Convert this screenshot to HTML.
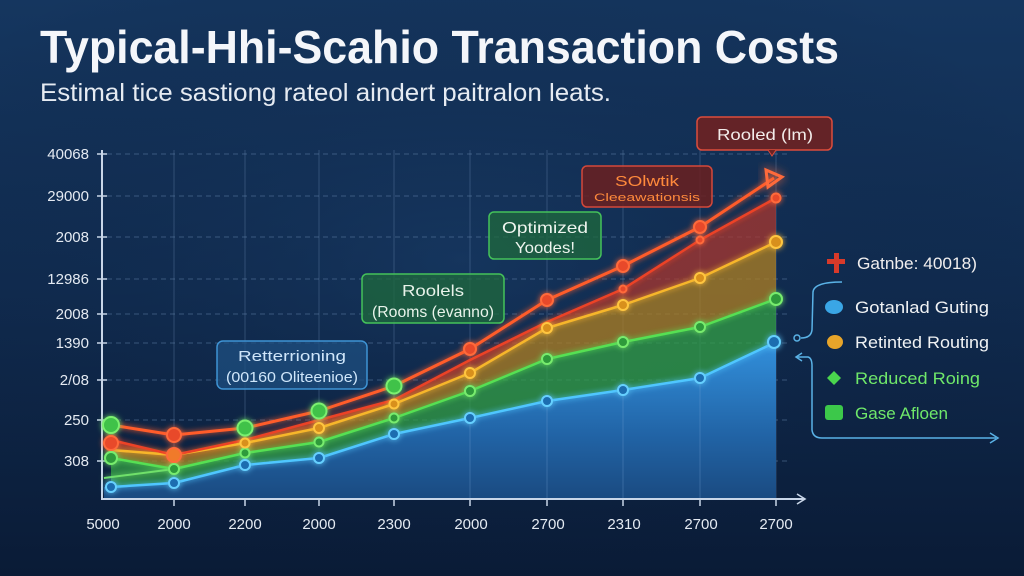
<!DOCTYPE html>
<html><head><meta charset="utf-8"><style>
html,body{margin:0;padding:0;background:#0d2242;}
svg{display:block;}
text{font-family:"Liberation Sans",sans-serif;}
</style></head><body>
<svg width="1024" height="576" viewBox="0 0 1024 576" xmlns="http://www.w3.org/2000/svg">
<defs>
<linearGradient id="bg" x1="0" y1="0" x2="0" y2="1">
<stop offset="0" stop-color="#15365f"/><stop offset="0.5" stop-color="#102b4f"/><stop offset="1" stop-color="#0a1b36"/>
</linearGradient>
<radialGradient id="bg2" cx="0.45" cy="0.45" r="0.6">
<stop offset="0" stop-color="#1a3e6a" stop-opacity="0.5"/><stop offset="1" stop-color="#0a1b36" stop-opacity="0"/>
</radialGradient>
<linearGradient id="blueF" x1="0" y1="0" x2="0" y2="1">
<stop offset="0" stop-color="#3290dc"/><stop offset="0.6" stop-color="#2163a5"/><stop offset="1" stop-color="#1a4a80"/>
</linearGradient>
<filter id="glow" x="-20%" y="-20%" width="140%" height="140%">
<feGaussianBlur stdDeviation="3" result="b"/><feMerge><feMergeNode in="b"/><feMergeNode in="SourceGraphic"/></feMerge>
</filter>
<filter id="glow2" x="-50%" y="-50%" width="200%" height="200%">
<feGaussianBlur stdDeviation="5" result="b"/><feMerge><feMergeNode in="b"/><feMergeNode in="SourceGraphic"/></feMerge>
</filter>
</defs>
<rect width="1024" height="576" fill="url(#bg)"/>
<rect width="1024" height="576" fill="url(#bg2)"/>

<!-- title -->
<text x="40" y="63" font-size="46" font-weight="bold" fill="#f4f6fa" textLength="799" lengthAdjust="spacingAndGlyphs">Typical-Hhi-Scahio Transaction Costs</text>
<text x="40" y="101" font-size="25" fill="#e6ebf2" textLength="571" lengthAdjust="spacingAndGlyphs">Estimal tice sastiong rateol aindert paitralon leats.</text>

<!-- grid -->
<g stroke="#6d8db5" stroke-opacity="0.35" stroke-width="1">
<line x1="174" y1="150" x2="174" y2="500"/><line x1="245" y1="150" x2="245" y2="500"/>
<line x1="319" y1="150" x2="319" y2="500"/><line x1="394" y1="150" x2="394" y2="500"/>
<line x1="470" y1="150" x2="470" y2="500"/><line x1="547" y1="150" x2="547" y2="500"/>
<line x1="623" y1="150" x2="623" y2="500"/><line x1="700" y1="150" x2="700" y2="500"/>
<line x1="776" y1="150" x2="776" y2="500"/>
</g>
<g stroke="#6d8db5" stroke-opacity="0.45" stroke-width="1" stroke-dasharray="5,4">
<line x1="107" y1="154" x2="790" y2="154"/><line x1="107" y1="196" x2="790" y2="196"/>
<line x1="107" y1="237" x2="790" y2="237"/><line x1="107" y1="279" x2="790" y2="279"/>
<line x1="107" y1="314" x2="790" y2="314"/><line x1="107" y1="343" x2="790" y2="343"/>
<line x1="107" y1="380" x2="790" y2="380"/><line x1="107" y1="420" x2="790" y2="420"/>
<line x1="107" y1="461" x2="790" y2="461"/>
</g>

<!-- fills -->
<polygon fill="#b0382c" fill-opacity="0.72" points="111,440 174,455 245,440 319,420 394,400 470,360 547,322 623,289 700,240 776,198 776,242 700,278 623,305 547,328 470,373 394,404 319,428 245,443 174,455 111,450"/>
<polygon fill="#b08022" fill-opacity="0.75" points="111,450 174,455 245,443 319,428 394,404 470,373 547,328 623,305 700,278 776,242 776,299 700,327 623,342 547,359 470,391 394,418 319,442 245,453 174,469 111,458"/>
<polygon fill="#33a045" fill-opacity="0.75" points="111,458 174,469 245,453 319,442 394,418 470,391 547,359 623,342 700,327 776,299 776,342 700,378 623,390 547,401 470,418 394,434 319,458 245,465 174,483 111,487"/>
<polygon fill="url(#blueF)" points="104,487 111,487 174,483 245,465 319,458 394,434 470,418 547,401 623,390 700,378 776,342 776,500 104,500"/>
<g stroke="#7aa6d8" stroke-opacity="0.3" stroke-width="1">
<line x1="470" y1="418" x2="470" y2="500"/><line x1="547" y1="401" x2="547" y2="500"/><line x1="623" y1="390" x2="623" y2="500"/><line x1="700" y1="378" x2="700" y2="500"/>
</g>

<!-- axes -->
<g stroke="#c9d6e8" stroke-width="2" fill="none">
<line x1="102" y1="150" x2="102" y2="500"/>
<line x1="102" y1="499" x2="804" y2="499"/>
<path d="M797,494 L805,499 L797,504" stroke-width="1.6"/>
</g>
<g stroke="#c9d6e8" stroke-width="1.5">
<line x1="97" y1="154" x2="107" y2="154"/><line x1="97" y1="196" x2="107" y2="196"/><line x1="97" y1="237" x2="107" y2="237"/>
<line x1="97" y1="279" x2="107" y2="279"/><line x1="97" y1="314" x2="107" y2="314"/><line x1="97" y1="343" x2="107" y2="343"/>
<line x1="97" y1="380" x2="107" y2="380"/><line x1="97" y1="420" x2="107" y2="420"/><line x1="97" y1="461" x2="107" y2="461"/>
<line x1="174" y1="499" x2="174" y2="506"/><line x1="245" y1="499" x2="245" y2="506"/><line x1="319" y1="499" x2="319" y2="506"/>
<line x1="394" y1="499" x2="394" y2="506"/><line x1="470" y1="499" x2="470" y2="506"/><line x1="547" y1="499" x2="547" y2="506"/>
<line x1="623" y1="499" x2="623" y2="506"/><line x1="700" y1="499" x2="700" y2="506"/><line x1="776" y1="499" x2="776" y2="506"/>
</g>
<g font-size="15" fill="#e4eaf2" text-anchor="end">
<text x="89" y="159">40068</text><text x="89" y="201">29000</text><text x="89" y="242">2008</text>
<text x="89" y="284">12986</text><text x="89" y="319">2008</text><text x="89" y="348">1390</text>
<text x="89" y="385">2/08</text><text x="89" y="425">250</text><text x="89" y="466">308</text>
</g>
<g font-size="15" fill="#e4eaf2" text-anchor="middle">
<text x="103" y="529">5000</text><text x="174" y="529">2000</text><text x="245" y="529">2200</text>
<text x="319" y="529">2000</text><text x="394" y="529">2300</text><text x="471" y="529">2000</text>
<text x="548" y="529">2700</text><text x="624" y="529">2310</text><text x="701" y="529">2700</text>
<text x="776" y="529">2700</text>
</g>

<!-- lines -->
<g fill="none" stroke-width="2.5" stroke-linejoin="round" filter="url(#glow)">
<polyline stroke="#6fe06a" stroke-width="2" points="104,478 174,469"/>
<polyline stroke="#4fc6ff" points="111,487 174,483 245,465 319,458 394,434 470,418 547,401 623,390 700,378 776,342"/>
<polyline stroke="#56e052" points="111,458 174,469 245,453 319,442 394,418 470,391 547,359 623,342 700,327 776,299"/>
<polyline stroke="#f7b62c" points="111,450 174,455 245,443 319,428 394,404 470,373 547,328 623,305 700,278 776,242"/>
<polyline stroke="#ec4326" points="111,440 174,455 245,440 319,420 394,400 470,360 547,322 623,289 700,240 776,198"/>
<polyline stroke="#ff5c2a" stroke-width="3" points="111,425 174,435 245,428 319,411 394,386 470,349 547,300 623,266 700,227 774,178"/>
</g>
<path d="M766,170 L782,177 L768,187 Z" fill="none" stroke="#ff6a3a" stroke-width="3" filter="url(#glow2)"/>

<!-- dots -->
<g stroke-width="2" filter="url(#glow)">
<g fill="#1f6db0" stroke="#66d0ff">
<circle cx="111" cy="487" r="5"/><circle cx="174" cy="483" r="5"/><circle cx="245" cy="465" r="5"/><circle cx="319" cy="458" r="5"/>
<circle cx="394" cy="434" r="5"/><circle cx="470" cy="418" r="5"/><circle cx="547" cy="401" r="5"/><circle cx="623" cy="390" r="5"/>
<circle cx="700" cy="378" r="5"/><circle cx="774" cy="342" r="6"/>
</g>
<g fill="#2f9a3a" stroke="#78ec6e">
<circle cx="111" cy="458" r="6"/><circle cx="174" cy="469" r="5"/><circle cx="245" cy="453" r="4.5"/><circle cx="319" cy="442" r="4.5"/>
<circle cx="394" cy="418" r="4.5"/><circle cx="470" cy="391" r="5"/><circle cx="547" cy="359" r="5"/><circle cx="623" cy="342" r="5"/>
<circle cx="700" cy="327" r="5"/><circle cx="776" cy="299" r="6"/>
</g>
<g fill="#d8901e" stroke="#ffc640">
<circle cx="245" cy="443" r="4.5"/><circle cx="319" cy="428" r="5"/><circle cx="394" cy="404" r="4.5"/><circle cx="470" cy="373" r="5"/>
<circle cx="547" cy="328" r="5"/><circle cx="623" cy="305" r="5"/><circle cx="700" cy="278" r="5"/><circle cx="776" cy="242" r="6"/>
</g>
<g fill="#e84a2a" stroke="#ff6a3a">
<circle cx="111" cy="443" r="7"/><circle cx="174" cy="455" r="7" fill="#f07a2a"/><circle cx="174" cy="435" r="7"/>
<circle cx="470" cy="349" r="6"/><circle cx="547" cy="300" r="6"/><circle cx="623" cy="266" r="6"/><circle cx="700" cy="227" r="6"/>
<circle cx="623" cy="289" r="3.5"/><circle cx="700" cy="240" r="3.5"/><circle cx="776" cy="198" r="4.5"/>
</g>
<g fill="#3fc24a" stroke="#7cf070">
<circle cx="111" cy="425" r="8"/><circle cx="245" cy="428" r="7.5"/><circle cx="319" cy="411" r="7.5"/><circle cx="394" cy="386" r="7.5"/>
</g>
</g>

<!-- annotation boxes -->
<rect x="217" y="341" width="150" height="48" rx="6" fill="#1d4f80" fill-opacity="0.75" stroke="#3e93d4" stroke-width="1.5"/>
<text x="292" y="361" font-size="15" fill="#cfe6fa" text-anchor="middle" textLength="108" lengthAdjust="spacingAndGlyphs">Retterrioning</text>
<text x="292" y="382" font-size="15" fill="#cfe6fa" text-anchor="middle" textLength="132" lengthAdjust="spacingAndGlyphs">(00160 Oliteenioe)</text>

<rect x="362" y="274" width="142" height="49" rx="5" fill="#1f6a3c" fill-opacity="0.75" stroke="#45c25a" stroke-width="1.5"/>
<text x="433" y="296" font-size="16" fill="#e8f3ea" text-anchor="middle" textLength="62" lengthAdjust="spacingAndGlyphs">Roolels</text>
<text x="433" y="317" font-size="16" fill="#e8f3ea" text-anchor="middle" textLength="122" lengthAdjust="spacingAndGlyphs">(Rooms (evanno)</text>

<rect x="489" y="212" width="112" height="47" rx="5" fill="#1f6a3c" fill-opacity="0.75" stroke="#45c25a" stroke-width="1.5"/>
<text x="545" y="233" font-size="16" fill="#eef5ee" text-anchor="middle" textLength="86" lengthAdjust="spacingAndGlyphs">Optimized</text>
<text x="545" y="253" font-size="16" fill="#eef5ee" text-anchor="middle" textLength="60" lengthAdjust="spacingAndGlyphs">Yoodes!</text>

<rect x="582" y="166" width="130" height="41" rx="5" fill="#6b2020" fill-opacity="0.85" stroke="#d4483a" stroke-width="1.5"/>
<text x="647" y="186" font-size="15" fill="#ff8a3c" text-anchor="middle" textLength="64" lengthAdjust="spacingAndGlyphs">SOlwtik</text>
<text x="647" y="201" font-size="11" fill="#ff8a3c" text-anchor="middle" textLength="106" lengthAdjust="spacingAndGlyphs">Cleeawationsis</text>

<rect x="697" y="117" width="135" height="33" rx="5" fill="#6e2222" fill-opacity="0.9" stroke="#dc4c3c" stroke-width="1.5"/>
<path d="M768,150 L772,156 L776,150" fill="#6e2222" stroke="#dc4c3c" stroke-width="1"/>
<text x="765" y="140" font-size="16" fill="#f2ecea" text-anchor="middle" textLength="96" lengthAdjust="spacingAndGlyphs">Rooled (lm)</text>

<!-- legend connectors -->
<g fill="none" stroke="#5ab2e6" stroke-width="1.5">
<path d="M842,282 Q814,282 813,292 L812,330 Q811,338 801,338"/>
<circle cx="797" cy="338" r="3"/>
<path d="M797,357 L808,357 Q812,358 812,366 L812,430 Q813,438 822,438 L996,438"/>
<path d="M802,353 L796,357 L802,361"/>
<path d="M990,433 L998,438 L990,443"/>
</g>

<!-- legend -->
<g>
<rect x="834" y="253" width="5" height="20" fill="#d83a2a"/>
<rect x="827" y="259" width="18" height="5" fill="#d83a2a"/>
<ellipse cx="834" cy="307" rx="9" ry="7" fill="#3aa6e6"/>
<ellipse cx="835" cy="342" rx="8" ry="7" fill="#e8a52a"/>
<path d="M834,371 L841,378 L834,385 L827,378 Z" fill="#4ad64e"/>
<rect x="825" y="405" width="18" height="15" rx="3" fill="#3cc84a"/>
</g>
<g font-size="17">
<text x="857" y="269" fill="#f0eeee" textLength="120" lengthAdjust="spacingAndGlyphs">Gatnbe: 40018)</text>
<text x="855" y="313" fill="#f0f2f4" textLength="134" lengthAdjust="spacingAndGlyphs">Gotanlad Guting</text>
<text x="855" y="348" fill="#f0f2f4" textLength="134" lengthAdjust="spacingAndGlyphs">Retinted Routing</text>
<text x="855" y="384" fill="#6fe86a" textLength="125" lengthAdjust="spacingAndGlyphs">Reduced Roing</text>
<text x="855" y="419" fill="#6fe86a" textLength="93" lengthAdjust="spacingAndGlyphs">Gase Afloen</text>
</g>
</svg>
</body></html>
